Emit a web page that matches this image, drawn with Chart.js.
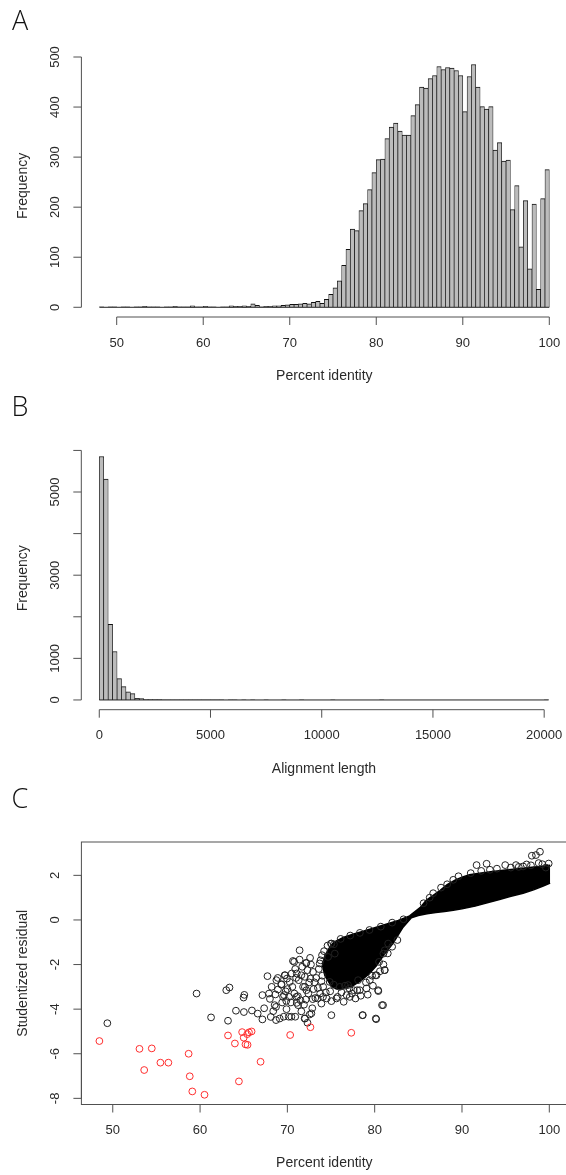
<!DOCTYPE html>
<html>
<head>
<meta charset="utf-8">
<title>Alignment summary</title>
<script src="https://cdn.jsdelivr.net/npm/chart.js@4.4.1/dist/chart.umd.min.js"></script>
<style>
  html, body { margin: 0; padding: 0; background: #fff; overflow: hidden; }
  body { width: 566px; height: 1175px; position: relative; }
  .panel { position: absolute; left: 0; width: 620px; }
  canvas { display: block; }
</style>
</head>
<body>
<div class="panel" style="top:0"><canvas id="identity-hist" width="620" height="390"></canvas></div>
<div class="panel" style="top:390px"><canvas id="length-hist" width="620" height="390"></canvas></div>
<div class="panel" style="top:780px"><canvas id="residual-plot" width="620" height="395"></canvas></div>
<script>
// A: percent identity, 0.5% bins from 48
const identityBinStart = 48;
const identityBinWidth = 0.5;
const identityCounts = [
    1, 0, 1, 1, 0, 1, 1, 0, 1, 1,
    2, 1, 1, 1, 0, 1, 1, 2, 1, 1,
    1, 3, 1, 1, 2, 1, 1, 0, 1, 1,
    3, 2, 2, 3, 2, 7, 4, 1, 2, 2,
    3, 3, 4, 5, 6, 6, 7, 8, 7, 10, 12, 8,
    16, 26, 39, 53, 84, 116, 156, 153, 193, 207,
    235, 269, 295, 296, 337, 360, 368, 352, 344, 344,
    383, 405, 440, 438, 457, 463, 481, 475, 479, 478,
    473, 463, 391, 461, 485, 440, 401, 396, 401, 314,
    329, 292, 294, 195, 243, 121, 213, 77, 206, 36,
    217, 275
];
const identityTicks = [50, 60, 70, 80, 90, 100];
const identityFreqTicks = [0, 100, 200, 300, 400, 500];

// B: alignment length, 200 bp bins from 0
const lengthBinStart = 0;
const lengthBinWidth = 200;
const lengthCounts = [
    5853, 5308, 1817, 1165, 514, 322, 193, 152, 40, 31,
    18, 12, 9, 7, 5, 4, 4, 3, 3, 2,
    2, 2, 1, 1, 2, 1, 1, 1, 0, 1,
    1, 0, 1, 0, 1, 0, 0, 1, 0, 0,
    0, 1, 0, 0, 0, 1, 0, 0, 0, 0,
    0, 0, 1, 0, 0, 0, 0, 0, 0, 0,
    0, 0, 0, 1, 0, 0, 0, 0, 0, 0,
    0, 0, 0, 0, 0, 0, 0, 0, 0, 0,
    0, 0, 0, 0, 0, 0, 0, 0, 0, 0,
    0, 0, 0, 0, 0, 0, 0, 0, 0, 0,
    1
];
const lengthTicks = [0, 5000, 10000, 15000, 20000];
const lengthFreqTicks = [0, 1000, 2000, 3000, 4000, 5000, 6000];
const lengthFreqLabels = ['0', '1000', '', '3000', '', '5000', ''];

// C: studentized residual vs percent identity
const residualIdTicks = [50, 60, 70, 80, 90, 100];
const residualTicks = [-8, -6, -4, -2, 0, 2];
// outline of the dense cloud of points
const cloudUpper = [
    [74.0, -2.0], [74.3, -1.6], [74.8, -1.25], [75.3, -1.0], [76.4, -0.78],
    [77.5, -0.64], [78.7, -0.5], [80.0, -0.35], [81.4, -0.18], [82.7, -0.02],
    [84.0, 0.18], [85.2, 0.55], [85.9, 0.88], [86.7, 1.1], [87.5, 1.33],
    [88.3, 1.58], [89.2, 1.78], [90.0, 1.92], [90.85, 2.03], [92.0, 2.1],
    [93.5, 2.17], [95.0, 2.24], [96.5, 2.3], [98.0, 2.36], [99.0, 2.4], [100.1, 2.45]
];
const cloudLower = [
    [74.0, -2.0], [74.3, -2.5], [75.0, -2.95], [75.6, -3.1], [76.5, -3.05],
    [77.5, -2.95], [78.5, -2.7], [79.4, -2.4], [80.2, -2.05], [81.0, -1.6],
    [82.1, -1.05], [83.2, -0.35], [84.2, 0.1], [85.0, 0.2], [86.0, 0.28],
    [87.0, 0.33], [88.0, 0.38], [89.0, 0.44], [90.0, 0.5], [91.5, 0.62],
    [93.0, 0.78], [94.3, 0.92], [95.5, 1.05], [97.0, 1.2], [98.2, 1.35],
    [99.3, 1.52], [100.1, 1.65]
];
// single points outside / on the edge of the cloud
const scatterBlack = [
    [49.38, -4.63], [59.6, -3.3], [61.26, -4.37], [63.0, -3.15], [63.37, -3.03],
    [63.2, -4.52], [64.11, -4.07], [64.98, -3.48], [65.07, -3.36], [65.02, -4.13],
    [65.94, -4.06], [67.14, -3.37], [67.34, -3.96], [67.14, -4.46], [67.72, -2.52],
    [68.0, -3.54], [68.38, -4.09], [68.7, -3.9], [68.7, -4.49], [69.12, -4.42],
    [68.63, -3.34], [68.92, -3.12], [69.33, -2.88], [69.62, -3.37], [69.74, -2.48],
    [69.95, -2.63], [69.87, -3.63], [70.16, -4.34], [69.58, -4.34], [70.57, -3.0],
    [70.9, -4.34], [70.78, -1.88], [71.4, -1.36], [71.4, -1.78], [71.07, -2.4],
    [71.3, -2.7], [71.2, -3.42], [71.07, -3.72], [71.23, -3.82], [72.0, -3.0],
    [72.1, -3.57], [72.14, -1.93], [72.3, -2.25], [72.64, -2.63], [72.02, -4.42],
    [72.3, -4.61], [72.56, -4.24], [72.85, -3.96], [73.47, -3.52], [73.76, -3.3],
    [73.97, -1.58], [73.8, -1.81], [74.1, -3.0], [74.5, -3.52], [75.04, -4.27],
    [75.04, -3.64], [75.0, -1.06], [75.33, -1.09], [75.75, -3.45], [76.45, -3.67],
    [76.78, -3.37], [77.11, -3.07], [77.4, -3.3], [77.8, -3.52], [78.0, -3.15],
    [78.64, -4.27], [79.06, -3.07], [80.1, -2.48], [80.17, -4.45], [80.42, -3.19],
    [80.84, -3.82], [81.13, -2.25], [80.5, -1.88], [81.0, -1.51],
    [70.64, -1.84], [72.18, -1.93], [69.69, -2.48], [68.74, -2.7], [70.26, -2.78],
    [71.6, -2.48], [72.94, -2.33], [73.7, -1.95], [72.18, -3.15], [71.03, -3.45],
    [69.5, -3.45], [68.54, -3.82], [70.46, -4.34], [71.98, -4.42], [72.75, -4.19],
    [74.08, -3.45], [75.62, -3.52], [77.15, -3.45], [78.29, -3.15], [80.39, -3.15],
    [80.96, -3.82], [80.13, -4.42], [78.6, -4.27], [81.16, -2.25], [80.21, -2.48],
    [79.44, -2.7], [78.1, -2.7], [76.95, -2.92], [76.0, -3.0], [74.85, -2.78],
    [75.05, -1.06], [75.43, -1.51], [74.66, -1.66], [81.16, -1.36], [81.54, -1.06],
    [69.3, -2.9], [70.0, -3.1], [70.5, -2.4], [71.0, -2.6], [71.8, -3.0],
    [72.5, -2.8], [73.0, -3.1], [73.3, -2.6], [69.8, -3.2], [70.8, -3.3],
    [71.5, -3.6], [72.4, -3.3], [73.6, -2.2], [74.0, -2.5], [73.2, -3.5],
    [81.5, -1.5], [82.0, -1.2], [82.6, -0.9], [81.0, -2.0], [80.6, -2.3],
    [79.7, -2.5], [79.0, -2.8],
    [68.2, -3.0], [68.9, -2.6], [69.4, -3.7], [70.2, -3.45], [70.9, -2.2],
    [71.7, -2.1], [72.0, -2.55], [72.7, -2.0], [73.1, -2.8], [73.5, -3.05],
    [73.9, -2.75], [74.4, -3.25], [74.9, -3.2], [75.3, -2.9], [76.2, -3.25],
    [76.6, -2.95], [77.6, -3.15], [78.4, -3.4], [79.2, -3.35], [79.8, -2.95],
    [70.4, -3.7], [71.9, -3.8], [72.9, -3.55], [73.9, -3.75], [68.1, -4.35],
    [69.9, -4.0], [71.6, -4.1], [66.6, -4.2], [67.9, -3.3], [72.6, -1.7],
    [74.2, -1.4], [74.6, -1.15], [76.1, -0.85], [77.2, -0.7], [78.3, -0.58],
    [79.4, -0.45], [80.7, -0.3], [82.0, -0.12], [83.3, 0.03], [85.6, 0.75],
    [86.3, 1.0],
    [89.6, 1.96], [91.67, 2.46], [92.82, 2.52], [94.95, 2.46], [96.18, 2.46],
    [97.4, 2.49], [98.0, 2.88], [98.47, 2.91], [98.93, 3.06], [98.78, 2.55],
    [99.93, 2.53], [91.0, 2.1], [92.2, 2.2], [93.2, 2.25], [94.0, 2.3],
    [95.6, 2.35], [96.5, 2.38], [97.0, 2.4], [97.9, 2.45], [99.2, 2.5],
    [99.6, 2.35], [89.0, 1.8], [88.3, 1.6], [87.6, 1.45], [86.7, 1.2]
];
const scatterRed = [
    [48.47, -5.43], [53.06, -5.78], [54.47, -5.76], [53.6, -6.73], [55.46, -6.4],
    [56.37, -6.4], [58.69, -6.0], [58.82, -7.01], [59.11, -7.69], [60.51, -7.84],
    [63.2, -5.18], [63.99, -5.54], [64.45, -7.24], [64.82, -5.03], [65.0, -5.28],
    [65.2, -5.58], [65.44, -5.6], [65.4, -5.12], [65.6, -5.04], [65.9, -5.0],
    [66.93, -6.36], [70.32, -5.16], [72.64, -4.81], [77.32, -5.06]
];

const FONT = '"Liberation Sans", Arial, Helvetica, sans-serif';
const CANVAS_W = 620;

// R-style axis range: data range padded by 4% each side
function usr(lo, hi) {
    const pad = (hi - lo) * 0.04;
    return [lo - pad, hi + pad];
}

function histPoints(start, width, counts) {
    return counts.map((c, i) => ({ x: start + width * (i + 0.5), y: c }));
}

function toXY(pairs) {
    return pairs.map(p => ({ x: p[0], y: p[1] }));
}

// draws axes the way base R does: lines only across the tick range, rotated y labels
const rAxes = {
    id: 'rAxes',
    afterDraw(chart, args, o) {
        const { ctx, chartArea: a, scales } = chart;
        const xs = scales.x, ys = scales.y;
        ctx.save();
        ctx.strokeStyle = '#505050';
        ctx.lineWidth = 1;

        if (o.box) {
            ctx.strokeRect(a.left, a.top, a.right - a.left, a.bottom - a.top);
        }

        const xp = o.xTicks.map(v => xs.getPixelForValue(v));
        const yp = o.yTicks.map(v => ys.getPixelForValue(v));
        ctx.beginPath();
        ctx.moveTo(xp[0], a.bottom);
        ctx.lineTo(xp[xp.length - 1], a.bottom);
        xp.forEach(p => { ctx.moveTo(p, a.bottom); ctx.lineTo(p, a.bottom + 8); });
        ctx.moveTo(a.left, yp[0]);
        ctx.lineTo(a.left, yp[yp.length - 1]);
        yp.forEach(p => { ctx.moveTo(a.left, p); ctx.lineTo(a.left - 8, p); });
        ctx.stroke();

        ctx.fillStyle = '#2a2a2a';
        ctx.textAlign = 'center';
        ctx.textBaseline = 'middle';
        ctx.font = '13px ' + FONT;
        o.xTicks.forEach((v, i) => ctx.fillText(String(v), xp[i], a.bottom + 26));
        const yl = o.yLabels || o.yTicks.map(String);
        yp.forEach((p, i) => {
            if (!yl[i]) return;
            ctx.save();
            ctx.translate(a.left - 26, p);
            ctx.rotate(-Math.PI / 2);
            ctx.fillText(yl[i], 0, 0);
            ctx.restore();
        });

        ctx.font = '14px ' + FONT;
        ctx.fillText(o.xTitle, (a.left + a.right) / 2, a.bottom + 59);
        ctx.save();
        ctx.translate(a.left - 58, (a.top + a.bottom) / 2);
        ctx.rotate(-Math.PI / 2);
        ctx.fillText(o.yTitle, 0, 0);
        ctx.restore();

        // panel letter
        ctx.fillStyle = '#111';
        ctx.font = '300 27px "Open Sans", "Noto Sans", sans-serif';
        ctx.fillText(o.letter, 20, o.letterY);
        ctx.restore();
    }
};

function baseOptions(xr, yr, pad) {
    return {
        responsive: false,
        animation: false,
        events: [],
        layout: { padding: pad },
        plugins: { legend: { display: false }, tooltip: { enabled: false } },
        scales: {
            x: { type: 'linear', display: false, min: xr[0], max: xr[1], offset: false },
            y: { type: 'linear', display: false, min: yr[0], max: yr[1] }
        }
    };
}

function histChart(id, start, width, counts, xr, yr, pad, axes) {
    const end = start + width * counts.length;
    const opts = baseOptions(xr, yr, pad);
    opts.plugins.rAxes = axes;
    return new Chart(document.getElementById(id), {
        type: 'bar',
        data: {
            datasets: [
                {
                    type: 'line',
                    data: [{ x: start, y: 0 }, { x: end, y: 0 }],
                    borderColor: '#222',
                    borderWidth: 1,
                    pointRadius: 0
                },
                {
                    data: histPoints(start, width, counts),
                    backgroundColor: '#bcbcbc',
                    borderColor: '#111',
                    borderWidth: { top: 1, left: 0.7, right: 0.7, bottom: 0 },
                    borderSkipped: false,
                    barPercentage: 1,
                    categoryPercentage: 1,
                    grouped: false
                }
            ]
        },
        options: opts,
        plugins: [rAxes]
    });
}

// panel A
histChart('identity-hist', identityBinStart, identityBinWidth, identityCounts,
    usr(identityBinStart, identityBinStart + identityBinWidth * identityCounts.length),
    usr(0, Math.max(...identityCounts)),
    { left: 81.4, right: CANVAS_W - 567.3, top: 54.8, bottom: 390 - 317.0 },
    { xTicks: identityTicks, yTicks: identityFreqTicks, xTitle: 'Percent identity',
      yTitle: 'Frequency', letter: 'A', letterY: 22 });

// panel B
histChart('length-hist', lengthBinStart, lengthBinWidth, lengthCounts,
    usr(lengthBinStart, lengthBinStart + lengthBinWidth * lengthCounts.length),
    usr(0, Math.max(...lengthCounts)),
    { left: 81.3, right: CANVAS_W - 566.6, top: 56.8, bottom: 390 - 319.7 },
    { xTicks: lengthTicks, yTicks: lengthFreqTicks, yLabels: lengthFreqLabels,
      xTitle: 'Alignment length', yTitle: 'Frequency', letter: 'B', letterY: 18 });

// panel C
const allX = scatterRed.concat(scatterBlack).map(p => p[0]).concat([100]);
const allY = scatterRed.concat(scatterBlack).map(p => p[1]);
const resOpts = baseOptions(usr(Math.min(...allX), Math.max(...allX)),
    usr(Math.min(...allY), Math.max(...allY)),
    { left: 81.4, right: CANVAS_W - 567.3, top: 62.0, bottom: 395 - 324.5 });
resOpts.plugins.rAxes = { box: true, xTicks: residualIdTicks, yTicks: residualTicks,
    xTitle: 'Percent identity', yTitle: 'Studentized residual', letter: 'C', letterY: 20 };

new Chart(document.getElementById('residual-plot'), {
    type: 'scatter',
    data: {
        datasets: [
            {
                data: toXY(scatterRed),
                pointStyle: 'circle',
                pointRadius: 3.4,
                borderWidth: 1,
                borderColor: 'rgb(255, 45, 45)',
                backgroundColor: 'rgba(0,0,0,0)'
            },
            {
                data: toXY(scatterBlack),
                pointStyle: 'circle',
                pointRadius: 3.4,
                borderWidth: 1,
                borderColor: '#222',
                backgroundColor: 'rgba(0,0,0,0)'
            },
            {
                data: toXY(cloudUpper),
                showLine: true,
                pointRadius: 0,
                borderColor: '#000',
                borderWidth: 1.5,
                fill: false
            },
            {
                data: toXY(cloudLower),
                showLine: true,
                pointRadius: 0,
                borderColor: '#000',
                borderWidth: 1.5,
                backgroundColor: '#000',
                fill: 2
            }
        ]
    },
    options: resOpts,
    plugins: [rAxes]
});
</script>
</body>
</html>
